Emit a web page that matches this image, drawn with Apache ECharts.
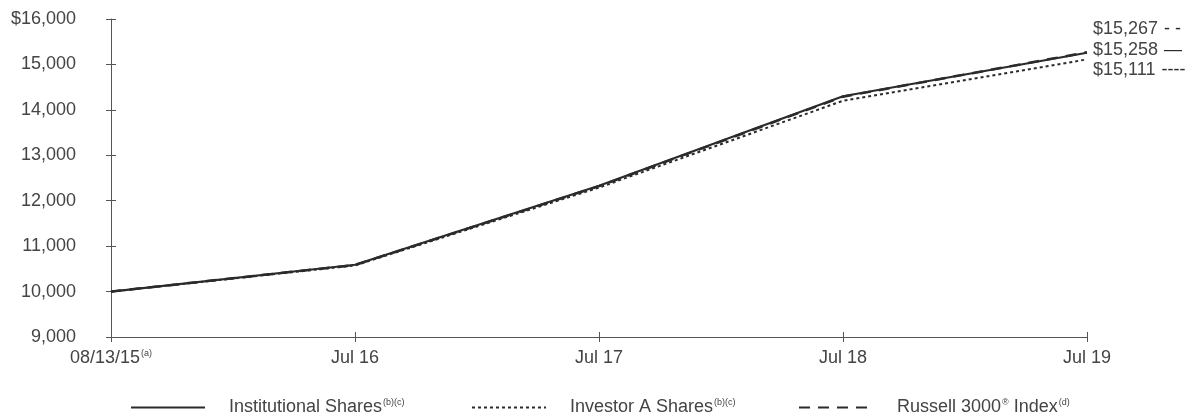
<!DOCTYPE html>
<html>
<head>
<meta charset="utf-8">
<script src="https://cdn.jsdelivr.net/npm/echarts@6/dist/echarts.min.js"></script>
<style>
  html, body { margin: 0; padding: 0; background: #fff; }
  #chart { width: 1198px; height: 417px; }
</style>
</head>
<body>
<div id="chart"></div>
<script>
// Growth of a hypothetical $10,000 investment
const periods = ['08/13/15', 'Jul 16', 'Jul 17', 'Jul 18', 'Jul 19'];
const institutional = [10000, 10590, 12330, 14300, 15258];
const investorA = [10000, 10575, 12290, 14200, 15111];
const russell3000 = [10000, 10585, 12320, 14290, 15267];
const yTicks = [9000, 10000, 11000, 12000, 13000, 14000, 15000, 16000];

const FONT = '"Liberation Sans", Arial, Helvetica, sans-serif';
const TEXT = '#444';
const LINE = '#2b2b2b';
const AXIS = '#555';
const FS = 18;

const sup = { fontSize: 9, fontFamily: FONT, color: TEXT, verticalAlign: 'top', padding: [0, 0, 10, 1] };
const base = { fontSize: FS, fontFamily: FONT, color: TEXT };

const fmtMoney = v => '$' + Number(v).toLocaleString('en-US');

function endLabel(suffix, dy) {
  return {
    show: true,
    distance: 6,
    offset: [0, dy],
    fontFamily: FONT,
    fontSize: FS,
    color: TEXT,
    formatter: p => '{v|' + fmtMoney(p.value) + '}{m|' + suffix + '}',
    rich: {
      v: { fontSize: FS, fontFamily: FONT, color: TEXT },
      m: { fontSize: FS, fontFamily: FONT, color: LINE, padding: [0, 0, 0, 6] }
    }
  };
}

function legendAt(left, name, label) {
  return {
    left: left,
    top: 393,
    itemWidth: 74,
    itemHeight: 14,
    itemGap: 0,
    data: [name],
    itemStyle: { opacity: 0 },
    formatter: () => label,
    textStyle: {
      fontFamily: FONT, fontSize: FS, color: TEXT, padding: [0, 0, 0, 19],
      rich: { n: base, s: sup }
    }
  };
}

const chart = echarts.init(document.getElementById('chart'), null, { renderer: 'canvas' });

chart.setOption({
  animation: false,
  backgroundColor: '#fff',
  grid: { left: 111, right: 111, top: 19, bottom: 80, containLabel: false },
  legend: [
    legendAt(125, 'Institutional Shares', '{n|Institutional Shares}{s|(b)(c)}'),
    legendAt(466, 'Investor A Shares', '{n|Investor A Shares}{s|(b)(c)}'),
    legendAt(793, 'Russell 3000 Index', '{n|Russell 3000}{s|®}{n| Index}{s|(d)}')
  ],
  xAxis: [
    {
      type: 'category',
      data: periods,
      boundaryGap: false,
      axisLine: { lineStyle: { color: AXIS, width: 1 } },
      axisTick: { show: true, length: 5, lineStyle: { color: AXIS } },
      axisLabel: {
        margin: 12,
        formatter: (v, i) => i === 0 ? '{n|' + v + '}{s|(a)}' : '{n|' + v + '}',
        rich: { n: base, s: sup },
        fontFamily: FONT, fontSize: FS, color: TEXT
      },
      splitLine: { show: false }
    },
    {
      type: 'category',
      data: periods,
      boundaryGap: false,
      position: 'bottom',
      axisLine: { show: false },
      axisTick: { show: true, inside: true, length: 5, lineStyle: { color: AXIS } },
      axisLabel: { show: false },
      splitLine: { show: false }
    }
  ],
  yAxis: [
    {
      type: 'value',
      min: yTicks[0],
      max: yTicks[yTicks.length - 1],
      interval: 1000,
      axisLine: { show: true, lineStyle: { color: AXIS, width: 1 } },
      axisTick: { show: true, length: 5, lineStyle: { color: AXIS } },
      axisLabel: {
        margin: 35,
        fontFamily: FONT, fontSize: FS, color: TEXT,
        formatter: v => (v === yTicks[yTicks.length - 1] ? '$' : '') + Number(v).toLocaleString('en-US')
      },
      splitLine: { show: false }
    },
    {
      type: 'value',
      position: 'left',
      min: yTicks[0],
      max: yTicks[yTicks.length - 1],
      interval: 1000,
      axisLine: { show: false },
      axisTick: { show: true, inside: true, length: 5, lineStyle: { color: AXIS } },
      axisLabel: { show: false },
      splitLine: { show: false }
    }
  ],
  series: [
    {
      name: 'Russell 3000 Index',
      type: 'line',
      data: russell3000,
      symbol: 'none',
      lineStyle: { color: LINE, width: 2.5, type: [11, 8] },
      itemStyle: { color: LINE },
      endLabel: endLabel('- -', -23),
      z: 2
    },
    {
      name: 'Investor A Shares',
      type: 'line',
      data: investorA,
      symbol: 'none',
      lineStyle: { color: LINE, width: 2, type: [3, 3] },
      itemStyle: { color: LINE },
      endLabel: endLabel('----', 11),
      z: 3
    },
    {
      name: 'Institutional Shares',
      type: 'line',
      data: institutional,
      symbol: 'none',
      lineStyle: { color: LINE, width: 2.2 },
      itemStyle: { color: LINE },
      endLabel: endLabel('—', -3),
      z: 4
    }
  ]
});
</script>
</body>
</html>
